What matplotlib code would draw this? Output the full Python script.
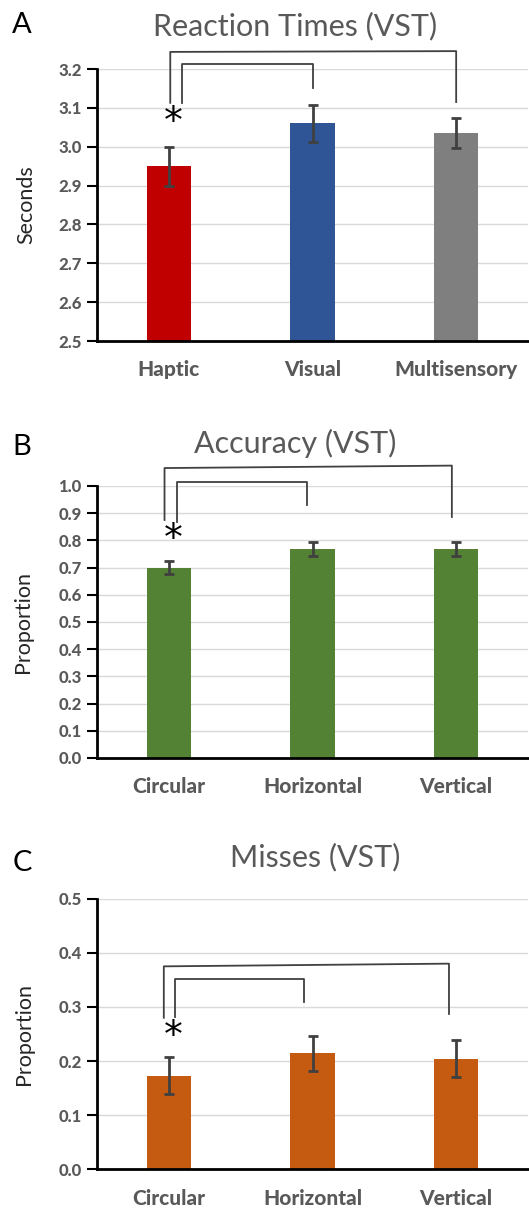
import matplotlib
matplotlib.use("Agg")
import matplotlib.pyplot as plt

plt.rcParams['font.family'] = ['Lato', 'DejaVu Sans']

# panel A - reaction times
rt_labels = ['Haptic', 'Visual', 'Multisensory']
rt_means = [2.95, 3.06, 3.035]
rt_err = [0.05, 0.047, 0.038]
rt_colors = ['#C00000', '#2F5597', '#7F7F7F']
rt_ticks = [2.5, 2.6, 2.7, 2.8, 2.9, 3.0, 3.1, 3.2]

# panel B - accuracy
acc_labels = ['Circular', 'Horizontal', 'Vertical']
acc_means = [0.70, 0.768, 0.768]
acc_err = [0.025, 0.025, 0.025]
acc_ticks = [0.0, 0.1, 0.2, 0.3, 0.4, 0.5, 0.6, 0.7, 0.8, 0.9, 1.0]

# panel C - misses
miss_labels = ['Circular', 'Horizontal', 'Vertical']
miss_means = [0.173, 0.214, 0.204]
miss_err = [0.034, 0.033, 0.034]
miss_ticks = [0.0, 0.1, 0.2, 0.3, 0.4, 0.5]

# brackets: (x_left, x_right, y_top_left, y_top_right, y_bottom_left, y_bottom_right)
rt_brackets = [(0.01, 2.0, 3.244, 3.246, 3.113, 3.115),
               (0.09, 1.0, 3.213, 3.213, 3.113, 3.151)]
acc_brackets = [(-0.03, 1.97, 1.066, 1.075, 0.875, 0.886),
                (0.055, 0.96, 1.015, 1.015, 0.868, 0.930)]
miss_brackets = [(-0.035, 1.95, 0.375, 0.380, 0.280, 0.287),
                 (0.04, 0.94, 0.351, 0.351, 0.281, 0.309)]

W, H = 529, 1211
fig = plt.figure(figsize=(W / 100, H / 100), dpi=100)

GRAY = '#595959'


def rect_from_px(left, right, top, bottom):
    return [left / W, 1 - bottom / H, (right - left) / W, (bottom - top) / H]


def panel(px, labels, means, errs, colors, ticks, ylabel, ylabel_x, title,
          title_px, letter, letter_y, brackets, star_y):
    rect = rect_from_px(*px)
    ax = fig.add_axes(rect)
    x = range(len(labels))
    ax.bar(x, means, width=0.31, color=colors, zorder=2)
    ax.errorbar(x, means, yerr=errs, fmt='none', ecolor='#404040',
                elinewidth=2, capsize=3.5, capthick=2, zorder=3)
    ax.set_xlim(-0.5, 2.5)
    ax.set_ylim(ticks[0], ticks[-1])
    ax.set_yticks(ticks)
    ax.set_yticklabels([f'{t:.1f}' for t in ticks], fontsize=12,
                       fontweight='black', color=GRAY)
    ax.set_xticks(list(x))
    ax.set_xticklabels(labels, fontsize=15, fontweight='black', color=GRAY)
    ax.tick_params(axis='x', length=0, pad=14)
    ax.tick_params(axis='y', length=7, width=1.5, pad=4, color='black')
    ax.yaxis.grid(True, color='#D9D9D9', linewidth=1, zorder=0)
    ax.set_axisbelow(True)
    for s in ['top', 'right']:
        ax.spines[s].set_visible(False)
    for s in ['left', 'bottom']:
        ax.spines[s].set_linewidth(2)
        ax.spines[s].set_color('black')
    fig.text(ylabel_x / W, 1 - (px[2] + px[3]) / 2 / H, ylabel, fontsize=15.5,
             color='#262626', rotation=90, ha='center', va='center')
    for x0, x1, yt0, yt1, yb0, yb1 in brackets:
        ax.plot([x0, x0, x1, x1], [yb0, yt0, yt1, yb1], color='#404040',
                lw=1.3, clip_on=False, zorder=4)
    ax.text(0.03, star_y, '*', fontsize=27, ha='center', va='center',
            color='black', fontfamily='DejaVu Sans')
    fig.text(title_px[0] / W, 1 - title_px[1] / H, title, fontsize=22,
             color=GRAY, ha='center', va='center')
    fig.text(22 / W, 1 - letter_y / H, letter, fontsize=21,
             color='black', ha='center', va='center')
    return ax


panel((97, 528, 69, 341), rt_labels, rt_means, rt_err, rt_colors,
      rt_ticks, 'Seconds', 26, 'Reaction Times (VST)', (295, 26), 'A', 25,
      rt_brackets, 3.06)
panel((97, 528, 486, 758), acc_labels, acc_means, acc_err,
      ['#548235'] * 3, acc_ticks, 'Proportion', 23, 'Accuracy (VST)',
      (295, 443), 'B', 447, acc_brackets, 0.80)
panel((97, 528, 898.7, 1169.3), miss_labels, miss_means, miss_err,
      ['#C55A11'] * 3, miss_ticks, 'Proportion', 24, 'Misses (VST)',
      (315, 857), 'C', 863, miss_brackets, 0.245)

fig.savefig('out.png', dpi=100)
